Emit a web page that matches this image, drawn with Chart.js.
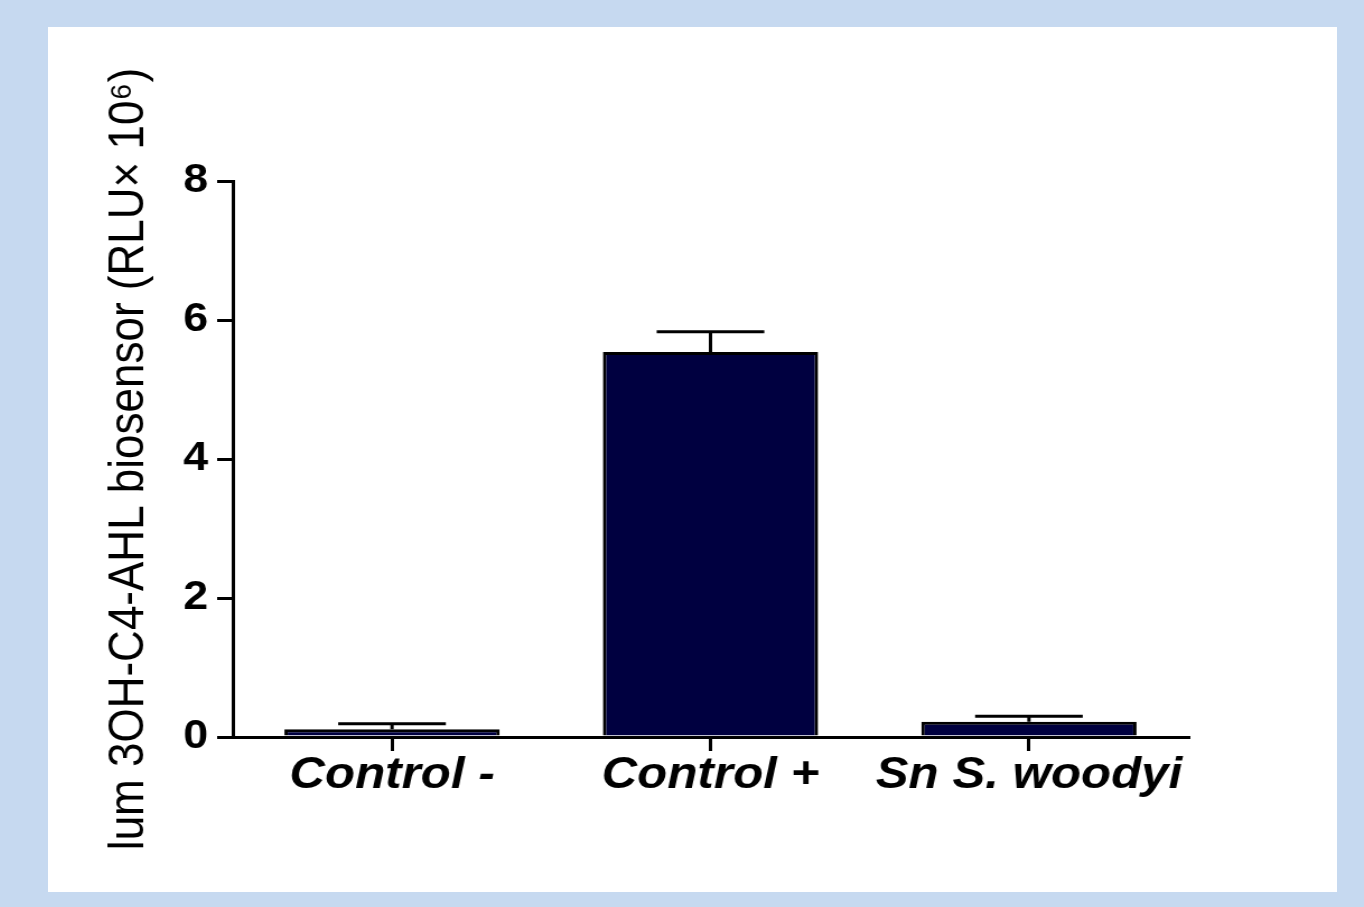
<!DOCTYPE html>
<html>
<head>
<meta charset="utf-8">
<script src="https://cdn.jsdelivr.net/npm/chart.js@4/dist/chart.umd.min.js"></script>
<style>
  html, body { margin:0; padding:0; background:#c6d9f0; }
  #panel { position:absolute; left:48px; top:27px; width:1289px; height:865px; background:#fff; overflow:hidden; }
  /* the source picture is stretched sideways, so we stretch the canvas the same way */
  #wrap { position:absolute; left:0; top:0; width:1151px; height:865px; transform:scaleX(1.12); transform-origin:0 0; }
</style>
</head>
<body>
<div id="panel"><div id="wrap"><canvas id="c"></canvas></div></div>
<script>
const categories = ["Control -", "Control +", "Sn S. woodyi"];
const means = [0.11, 5.54, 0.22];
const errs = [0.08, 0.29, 0.08];
const yTicks = [0, 2, 4, 6, 8];

const barColor = "#000040";

// error bars: stem + cap above each bar
const errorBars = {
  id: "errorBars",
  afterDatasetsDraw(chart){
    const ctx = chart.ctx;
    const yScale = chart.scales.y;
    const meta = chart.getDatasetMeta(0);
    ctx.save();
    ctx.strokeStyle = "#000";
    ctx.lineWidth = 3;
    meta.data.forEach((bar, i)=>{
      const top = yScale.getPixelForValue(means[i] + errs[i]);
      const base = yScale.getPixelForValue(means[i]);
      const half = bar.width / 4;
      ctx.beginPath();
      ctx.moveTo(bar.x, base);
      ctx.lineTo(bar.x, top);
      ctx.moveTo(bar.x - half, top);
      ctx.lineTo(bar.x + half, top);
      ctx.stroke();
    });
    ctx.restore();
  }
};

new Chart(document.getElementById("c"), {
  type: "bar",
  data: {
    labels: categories,
    datasets: [{
      data: means,
      backgroundColor: barColor,
      borderColor: "#000",
      borderWidth: 3,
      categoryPercentage: 1,
      barPercentage: 0.676
    }]
  },
  options: {
    responsive: true,
    maintainAspectRatio: false,
    animation: false,
    layout: { padding: { top: 154, right: 133, left: 0, bottom: 0 } },
    plugins: { legend: { display: false }, tooltip: { enabled: false } },
    scales: {
      x: {
        grid: { offset: false, drawOnChartArea: false, tickLength: 14, color: "#000", lineWidth: 3 },
        border: { color: "#000", width: 3 },
        ticks: {
          color: "#000", padding: -2,
          font: { family: "'Liberation Sans', Arial", size: 44, weight: "bold", style: "italic" }
        },
        afterFit(s){ s.height = 155; }
      },
      y: {
        min: 0, max: 8,
        afterBuildTicks(s){ s.ticks = yTicks.map(v=>({ value: v })); },
        grid: { drawOnChartArea: false, tickLength: 14, color: "#000", lineWidth: 3 },
        border: { color: "#000", width: 3 },
        ticks: {
          color: "#000", padding: 8,
          font: { family: "'Liberation Sans', Arial", size: 40, weight: "bold" }
        },
        title: {
          display: true,
          text: "lum 3OH-C4-AHL biosensor (RLU× 10⁶)",
          color: "#000",
          padding: { top: 46, bottom: 0 },
          font: { family: "'Liberation Sans', Arial", size: 44 }
        },
        afterFit(s){ s.width = 165; }
      }
    }
  },
  plugins: [errorBars]
});
</script>
</body>
</html>
